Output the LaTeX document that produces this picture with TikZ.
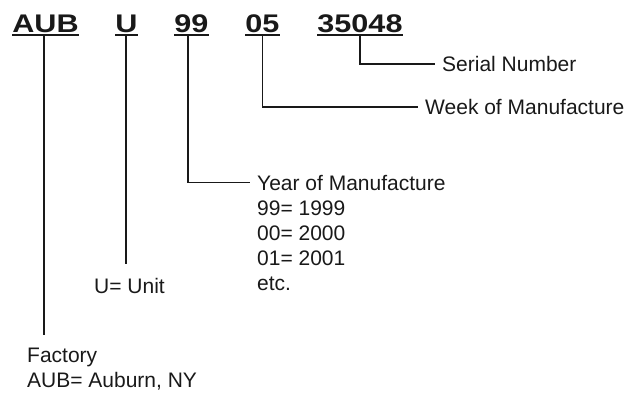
\documentclass[tikz,border=0pt]{standalone}
\usepackage{fontspec}
\setmainfont{Liberation Sans}
\newfontfamily\codefont[FakeStretch=1.2]{Liberation Sans Bold}
\usetikzlibrary{calc,positioning}

\begin{document}
\begin{tikzpicture} [
        x=1pt, y=-1pt,
        code/.style={
            font=\codefont\fontsize{25.5}{30}\selectfont,
            text=black!90,
            text depth=0pt,
            inner xsep=0pt,
            inner ysep=2.3pt},
        lbl/.style={
            font=\fontsize{21}{25}\selectfont,
            text=black!90,
            align=left,
            inner sep=0pt},
        uline/.style={line width=1.2pt, black!90},
        lead/.style={line width=1.6pt, black!90}]

    \useasboundingbox (0,0) rectangle (638,392);

    % the code parts
    \node[code,anchor=base] (aub) at (45.5,32.5) {AUB};
    \node[code,anchor=base] (unit) at (126.5,32.5) {U};
    \node[code,anchor=base] (yr) at (191.5,32.5) {99};
    \node[code,anchor=base] (wk) at (262.5,32.5) {05};
    \node[code,anchor=base] (sn) at (360,32.5) {35048};
    \foreach \part in {aub,unit,yr,wk,sn} {
        \draw[uline] (\part.south west) -- (\part.south east);
    }

    % the labels
    \node[lbl,anchor=north west,inner ysep=13pt] (factory) at (27,335) {Factory\\AUB= Auburn, NY};
    \node[lbl,anchor=base west,inner ysep=14pt] (unitlbl) at (94,293) {U= Unit};
    \node[lbl,anchor=north west] (yrlbl) at (257,175) {Year of Manufacture\\99= 1999\\00= 2000\\01= 2001\\etc.};
    \node[lbl,anchor=west,inner xsep=7pt] (wklbl) at (418,107) {Week of Manufacture};
    \node[lbl,anchor=west,inner xsep=7pt] (snlbl) at (435,64) {Serial Number};

    % connect codes and labels
    \draw[lead] ([xshift=-1.5pt]aub.south) -- ([xshift=-1.5pt]aub.south |- factory.north);
    \draw[lead] ([xshift=-0.5pt]unit.south) -- ([xshift=-0.5pt]unit.south |- unitlbl.north);
    \draw[lead] ([xshift=-3.5pt]yr.south) |- ([shift={(-7pt,-7.5pt)}]yrlbl.north west);
    \draw[lead] (wk.south) |- (wklbl.west);
    \draw[lead] (sn.south) |- (snlbl.west);

\end{tikzpicture}
\end{document}
